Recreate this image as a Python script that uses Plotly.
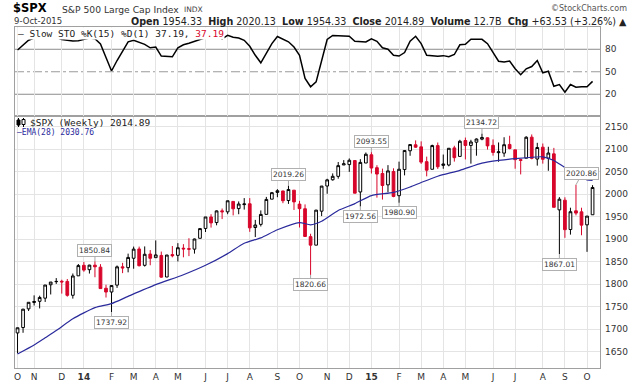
import pandas as pd
import plotly.graph_objects as go

# ---------------- data ----------------
week_ending = pd.date_range('2013-10-11', periods=105, freq='W-FRI').strftime('%Y-%m-%d').tolist()

opens = [1691.7, 1703.7, 1745.2, 1759.4, 1762.0, 1769.0, 1798.8, 1806.3, 1806.6, 1806.2,
         1775.4, 1818.6, 1842.0, 1832.3, 1842.3, 1837.9, 1791.0, 1782.7, 1798.0, 1838.6,
         1836.8, 1857.7, 1878.3, 1842.0, 1867.0, 1859.0, 1863.9, 1816.0, 1865.8, 1864.2,
         1880.0, 1879.0, 1877.9, 1902.0, 1923.9, 1949.4, 1937.0, 1963.0, 1960.8, 1984.0,
         1968.0, 1976.9, 1978.7, 1926.0, 1933.0, 1955.2, 1989.0, 2004.0, 2007.2, 1986.0,
         2009.0, 1978.0, 1967.7, 1905.7, 1886.8, 1962.3, 2018.2, 2032.1, 2039.7, 2065.0,
         2065.8, 2074.8, 2005.0, 2069.3, 2087.6, 2058.9, 2046.1, 2020.8, 2050.4, 1996.7,
         2054.8, 2096.5, 2109.8, 2105.2, 2072.3, 2055.4, 2108.0, 2064.1, 2064.9, 2102.9,
         2084.0, 2119.3, 2108.4, 2115.6, 2122.3, 2125.3, 2108.6, 2092.3, 2091.3, 2110.6,
         2098.6, 2075.0, 2080.0, 2126.8, 2078.2, 2104.5, 2080.0, 2089.7, 1965.2, 1986.7,
         1921.5, 1963.1, 1960.8, 1931.9, 1954.33]
highs = [1703.4, 1745.3, 1759.8, 1775.2, 1774.5, 1798.2, 1804.8, 1813.6, 1810.0, 1811.5,
         1823.8, 1844.9, 1849.4, 1843.2, 1850.84, 1844.6, 1798.8, 1798.0, 1841.6, 1847.5,
         1867.9, 1883.6, 1883.6, 1884.0, 1875.9, 1897.3, 1872.5, 1864.9, 1884.9, 1891.3,
         1889.0, 1902.2, 1901.3, 1924.0, 1949.4, 1955.6, 1963.9, 1968.2, 1985.6, 1984.2,
         1983.9, 1991.4, 1991.4, 1942.9, 1964.0, 1994.0, 2005.0, 2011.2, 2007.7, 2019.26,
         2009.0, 1985.2, 1977.4, 1912.1, 1965.3, 2018.2, 2034.3, 2046.2, 2071.5, 2075.8,
         2079.5, 2075.8, 2077.9, 2092.7, 2093.55, 2064.4, 2056.9, 2064.6, 2057.6, 2072.4,
         2097.0, 2110.6, 2119.6, 2117.5, 2083.5, 2110.1, 2114.9, 2088.2, 2102.6, 2107.7,
         2120.9, 2125.9, 2120.9, 2123.9, 2134.72, 2126.2, 2121.9, 2115.0, 2126.6, 2129.9,
         2098.6, 2078.4, 2128.9, 2132.8, 2114.2, 2112.7, 2105.4, 2102.9, 1993.5, 1993.2,
         1970.0, 2020.86, 1970.0, 1951.4, 2020.13]
lows = [1646.5, 1692.1, 1740.5, 1752.7, 1746.2, 1760.6, 1777.2, 1800.6, 1779.1, 1772.3,
        1768.0, 1818.6, 1827.7, 1823.7, 1815.5, 1790.3, 1770.4, 1737.92, 1791.8, 1824.6,
        1826.4, 1834.4, 1839.6, 1839.2, 1842.1, 1858.7, 1814.4, 1815.8, 1859.7, 1850.6,
        1859.8, 1862.4, 1868.0, 1902.0, 1916.0, 1925.8, 1930.9, 1944.7, 1955.6, 1952.9,
        1955.5, 1965.8, 1916.4, 1904.8, 1928.3, 1955.2, 1989.0, 1993.3, 1980.0, 1978.5,
        1965.0, 1926.0, 1906.0, 1820.66, 1886.8, 1951.4, 2001.0, 2030.2, 2034.5, 2064.8,
        2049.6, 2002.3, 1972.56, 2069.3, 2046.0, 1992.4, 1988.1, 2004.5, 1993.3, 1980.9,
        2041.9, 2085.4, 2103.0, 2067.3, 2039.7, 2055.4, 2056.2, 2056.5, 2062.0, 2072.4,
        2084.0, 2077.3, 2067.9, 2085.6, 2119.9, 2099.2, 2085.7, 2072.1, 2083.1, 2099.8,
        2056.6, 2044.0, 2080.0, 2077.5, 2063.5, 2067.9, 2052.1, 1970.9, 1867.01, 1903.1,
        1910.2, 1953.0, 1908.8, 1871.9, 1954.33]
closes = [1703.2, 1744.5, 1759.8, 1761.6, 1770.6, 1798.2, 1804.8, 1805.8, 1805.1, 1775.3,
          1818.3, 1841.4, 1831.4, 1842.4, 1838.7, 1790.3, 1782.6, 1797.0, 1838.6, 1836.3,
          1859.5, 1878.0, 1841.1, 1866.5, 1857.6, 1865.1, 1815.7, 1864.9, 1863.4, 1881.1,
          1878.5, 1877.9, 1900.5, 1923.6, 1949.4, 1936.2, 1962.9, 1961.0, 1985.4, 1967.6,
          1978.2, 1978.3, 1925.2, 1931.6, 1955.1, 1988.4, 2003.4, 2007.7, 1985.5, 2010.4,
          1982.9, 1967.9, 1906.1, 1886.8, 1964.6, 2018.1, 2031.9, 2039.8, 2063.5, 2067.6,
          2075.4, 2002.3, 2070.7, 2088.8, 2058.2, 2044.8, 2019.4, 2051.8, 1995.0, 2055.5,
          2097.0, 2110.3, 2104.5, 2071.3, 2053.4, 2108.1, 2061.0, 2067.0, 2102.1, 2081.2,
          2117.7, 2108.3, 2116.1, 2122.7, 2126.1, 2107.4, 2092.8, 2094.1, 2110.0, 2101.5,
          2076.8, 2076.6, 2126.6, 2079.7, 2103.8, 2077.6, 2091.5, 1970.9, 1988.9, 1921.2,
          1961.1, 1958.0, 1931.3, 1951.4, 2014.89]
close_before_window = 1690.5

# Slow stochastic %K(15) (one value per week)
slow_sto = [79, 86, 92, 95, 96, 97, 97, 96, 93, 92,
            91, 91.5, 93, 95, 94, 87, 69, 51, 65, 78,
            90, 92, 89, 86.5, 82, 83, 71, 70, 70, 82,
            86, 88, 90.5, 93, 96, 98, 98, 94, 98.5, 96,
            95, 92, 84, 72, 62, 74, 87.5, 97, 93, 90,
            83, 72, 41, 30, 36.5, 64, 93, 98.5, 98, 97.8,
            97.3, 90.7, 89.8, 89.8, 94, 90.7, 82, 80, 72, 71,
            75.6, 90.7, 97.3, 87.5, 72, 71.5, 70.7, 71.5, 70, 73,
            86, 86.7, 93.3, 93.3, 93.3, 87.5, 76.4, 64, 63, 64.4,
            54, 46, 54, 57, 65, 48.5, 50.7, 30.7, 33, 22.7,
            33, 29.4, 30, 30, 37.19]

# EMA(28) read at selected weeks (week index -> value)
ema_week_index = [0, 3, 5, 7, 10, 14, 17, 20, 25, 30, 34, 38, 41, 44, 47, 51, 53, 55, 58,
                  61, 64, 68, 71, 73, 76, 80, 84, 87, 90, 95, 97, 99, 101, 103, 104]
ema_values = [1645, 1665, 1681, 1697, 1723, 1748, 1757, 1773, 1799, 1821, 1842, 1868, 1891,
              1903, 1921, 1937, 1932, 1940, 1964, 1979, 1997, 2004, 2016, 2026, 2040, 2053,
              2069, 2075, 2079, 2083, 2075, 2059, 2046, 2032, 2030.76]

# labelled highs / lows: (week index, label, 'hi'/'lo')
callouts = [(14, '1850.84', 'hi'), (17, '1737.92', 'lo'), (49, '2019.26', 'hi'),
            (53, '1820.66', 'lo'), (64, '2093.55', 'hi'), (62, '1972.56', 'lo'),
            (69, '1980.90', 'lo'), (84, '2134.72', 'hi'), (98, '1867.01', 'lo'),
            (101, '2020.86', 'hi')]

month_tick_dates = ['2013-10-11', '2013-11-01', '2013-12-06', '2014-01-03', '2014-02-07',
                    '2014-03-07', '2014-04-04', '2014-05-02', '2014-06-06', '2014-07-04',
                    '2014-08-01', '2014-09-05', '2014-10-03', '2014-11-07', '2014-12-05',
                    '2015-01-02', '2015-02-06', '2015-03-06', '2015-04-03', '2015-05-01',
                    '2015-06-05', '2015-07-03', '2015-08-07', '2015-09-04', '2015-10-02']
month_tick_text = ['O', 'N', 'D', '<b>14</b>', 'F', 'M', 'A', 'M', 'J', 'J', 'A', 'S',
                   'O', 'N', 'D', '<b>15</b>', 'F', 'M', 'A', 'M', 'J', 'J', 'A', 'S', 'O']
price_ticks = [1650, 1700, 1750, 1800, 1850, 1900, 1950, 2000, 2050, 2100, 2150]
sto_ticks = [20, 50, 80]

# ---------------- styling ----------------
RED = '#d7062a'
BLUE = '#2a2a9c'
GRID = '#e4e4e4'
BORDER = '#a0a0a0'
FONT = 'DejaVu Sans'
MONO = 'DejaVu Sans Mono'
W, H = 640, 385
# plot frame in pixels (figure margins are zero; panels placed by domain)
LEFT, RIGHT, STO_TOP, MAIN_TOP, BOTTOM = 15, 600, 27, 116, 368


def pxx(x):
    return x / W


def pxy(y):
    return (H - y) / H


# split candles by colour: black when close >= previous close, red otherwise
groups = {'black': [[], [], [], [], []], 'red': [[], [], [], [], []]}
prev = close_before_window
for d, o, h, l, c in zip(week_ending, opens, highs, lows, closes):
    g = groups['black' if c >= prev else 'red']
    for lst, v in zip(g, (d, o, h, l, c)):
        lst.append(v)
    prev = c

fig = go.Figure()
for name, col in (('black', '#000000'), ('red', RED)):
    d, o, h, l, c = groups[name]
    fig.add_trace(go.Candlestick(
        x=d, open=o, high=h, low=l, close=c, xaxis='x', yaxis='y',
        increasing=dict(line=dict(color=col, width=1), fillcolor='#ffffff'),
        decreasing=dict(line=dict(color=col, width=1), fillcolor=col),
        whiskerwidth=0, showlegend=False, hoverinfo='skip'))

fig.add_trace(go.Scatter(x=[week_ending[i] for i in ema_week_index], y=ema_values,
                         mode='lines', line=dict(color=BLUE, width=1.2, shape='spline', smoothing=0.6),
                         xaxis='x', yaxis='y', showlegend=False, hoverinfo='skip'))

fig.add_trace(go.Scatter(x=week_ending, y=slow_sto, mode='lines',
                         line=dict(color='#000000', width=1.5),
                         xaxis='x2', yaxis='y2', showlegend=False, hoverinfo='skip'))

x_range = ['2013-10-07 19:00', '2015-10-18 10:00']
xdom = [pxx(LEFT), pxx(RIGHT)]

axis_common = dict(showline=True, mirror=True, linecolor=BORDER, linewidth=1,
                   zeroline=False)
fig.update_layout(
    width=W, height=H,
    margin=dict(l=0, r=0, t=0, b=0, pad=0, autoexpand=False),
    paper_bgcolor='white', plot_bgcolor='white',
    font=dict(family=FONT, size=9, color='#333333'),
    boxgap=0.3,
    xaxis=dict(domain=xdom, anchor='y', range=x_range, type='date',
               tickmode='array', tickvals=month_tick_dates, ticktext=month_tick_text,
               showgrid=True, gridcolor=GRID, ticks='', tickfont=dict(size=9, color='#333'),
               rangeslider=dict(visible=False), **axis_common),
    xaxis2=dict(domain=xdom, anchor='y2', range=x_range, type='date', matches='x',
                tickmode='array', tickvals=month_tick_dates, showticklabels=False,
                showgrid=True, gridcolor=GRID, ticks='',
                rangeslider=dict(visible=False), **axis_common),
    yaxis=dict(domain=[pxy(BOTTOM), pxy(MAIN_TOP)], range=[1613.8, 2173.8], side='right',
               tickmode='array', tickvals=price_ticks, showticklabels=False,
               showgrid=True, gridcolor=GRID, ticks='', **axis_common),
    yaxis2=dict(domain=[pxy(MAIN_TOP), pxy(STO_TOP)], range=[-9, 109.7], side='right',
                tickmode='array', tickvals=sto_ticks, showticklabels=False, showgrid=False,
                ticks='', **axis_common),
)

# stochastic reference lines
shapes = [
    dict(type='line', xref='x2 domain', x0=0, x1=1, yref='y2', y0=80, y1=80,
         line=dict(color='#8c8c8c', width=1), layer='below'),
    dict(type='line', xref='x2 domain', x0=0, x1=1, yref='y2', y0=20, y1=20,
         line=dict(color='#8c8c8c', width=1), layer='below'),
    dict(type='line', xref='x2 domain', x0=0, x1=1, yref='y2', y0=50, y1=50,
         line=dict(color='#9a9a9a', width=1, dash='dashdot'), layer='below'),
]
# small candle icon for the price legend
shapes += [
    dict(type='line', xref='paper', yref='paper', x0=pxx(18.5), x1=pxx(18.5), y0=pxy(118), y1=pxy(127),
         line=dict(color='#000', width=1)),
    dict(type='rect', xref='paper', yref='paper', x0=pxx(17), x1=pxx(20), y0=pxy(120), y1=pxy(125),
         line=dict(color='#000', width=1), fillcolor='#000'),
    dict(type='line', xref='paper', yref='paper', x0=pxx(23.5), x1=pxx(23.5), y0=pxy(118), y1=pxy(127),
         line=dict(color='#000', width=1)),
    dict(type='rect', xref='paper', yref='paper', x0=pxx(22), x1=pxx(25), y0=pxy(119.5), y1=pxy(124.5),
         line=dict(color='#000', width=1), fillcolor='#fff'),
]
fig.update_layout(shapes=shapes)

ann = []


def text(x, y, s, size=9, color='#333333', xanchor='left', bold=False, bg=None, family=FONT):
    d = dict(xref='paper', yref='paper', x=pxx(x), y=pxy(y), text=('<b>' + s + '</b>') if bold else s,
             showarrow=False, xanchor=xanchor, yanchor='middle',
             font=dict(family=family, size=size, color=color), borderpad=0)
    if bg:
        d['bgcolor'] = bg
    ann.append(d)


# header (anchored at the right edge of each text)
text(48, 8, '$SPX', size=11.5, color='#000', bold=True, xanchor='right')
text(180, 9, 'S&P 500 Large Cap Index', size=9.2, color='#333', xanchor='right')
text(204, 9, 'INDX', size=7.5, color='#444', xanchor='right')
text(628, 8, '\u00a9StockCharts.com', size=8, color='#555', xanchor='right')
text(63, 21, '9-Oct-2015', size=8.5, color='#333', xanchor='right')
text(628, 21, '<b>Open</b> 1954.33  <b>High</b> 2020.13  <b>Low</b> 1954.33  <b>Close</b> 2014.89  '
              '<b>Volume</b> 12.7B  <b>Chg</b> +63.53 (+3.26%) \u25b2', size=9.6, color='#222',
     xanchor='right')

# panel legends
text(17, 33, '\u2014 Slow STO %K(15) %D(1) 37.19, <span style="color:' + RED + '">37.19</span>',
     size=9.5, color='#222', bg='white', family=MONO)
text(29, 122, '$SPX (Weekly) 2014.89', size=9.5, color='#222', family=MONO)
text(16, 132, '\u2014EMA(28) 2030.76', size=8, color=BLUE, family=MONO)

# y-axis labels on the right
for v in price_ticks:
    ann.append(dict(xref='paper', yref='y', x=pxx(603), y=v, text=str(v), showarrow=False,
                    xanchor='left', yanchor='middle', font=dict(family=FONT, size=9, color='#333')))
for v in sto_ticks:
    ann.append(dict(xref='paper', yref='y2', x=pxx(603), y=v, text=str(v), showarrow=False,
                    xanchor='left', yanchor='middle', font=dict(family=FONT, size=9, color='#333')))

# callouts on highs / lows
for i, label, kind in callouts:
    val = highs[i] if kind == 'hi' else lows[i]
    ax = 6 if i == 101 else 0
    ann.append(dict(xref='x', yref='y', x=week_ending[i], y=val, text=label,
                    showarrow=True, arrowhead=0, arrowwidth=1, arrowcolor='#a8a8a8',
                    ax=ax, ay=-11 if kind == 'hi' else 10, standoff=0,
                    font=dict(family=FONT, size=7.5, color='#333'),
                    bgcolor='white', bordercolor='#b0b0b0', borderwidth=1, borderpad=1))

fig.update_layout(annotations=ann)

fig.write_html('out.html', config={'displayModeBar': False, 'responsive': False},
               post_script="document.body.style.margin='0';document.body.style.padding='0';"
                           "document.body.style.overflow='hidden';")
